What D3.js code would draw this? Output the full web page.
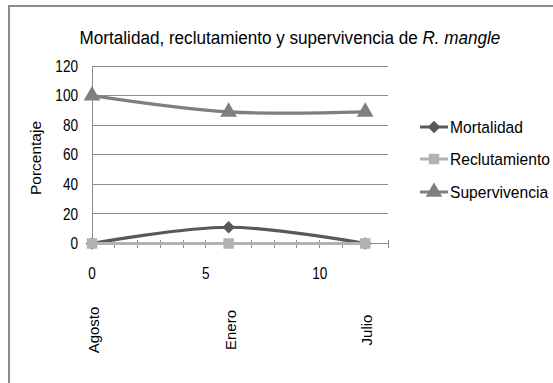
<!DOCTYPE html>
<html><head><meta charset="utf-8">
<script src="https://cdn.jsdelivr.net/npm/d3@7"></script>
<style>
body{margin:0;background:#fff;}
svg{display:block;}
text{font-family:"Liberation Sans",Arial,sans-serif;}
</style></head><body>
<script>
const xValues = [0, 6, 12];
const months = ["Agosto", "Enero", "Julio"];
const seriesNames = ["Mortalidad", "Reclutamiento", "Supervivencia"];
const mortalidad = [0, 11, 0];
const reclutamiento = [0, 0, 0];
const supervivencia = [100, 89, 89];
const yTicks = [0, 20, 40, 60, 80, 100, 120];
const xTicks = [0, 5, 10];

const W = 553, H = 383;
const svg = d3.select("body").append("svg").attr("width", W).attr("height", H);

// outer frame
svg.append("path").attr("d", `M9,${H+2} L9,6 L${W+2},6`).attr("fill","none")
  .attr("stroke","#8c8c8c").attr("stroke-width",2);

const x = d3.scaleLinear().domain([0, 13]).range([92, 388]);
const y = d3.scaleLinear().domain([0, 120]).range([243.5, 66]);

// narrow text helper (condensed look)
function ntext(g, px, py, str, size, anchor, sx) {
  const t = g.append("g").attr("transform", `translate(${px},${py}) scale(${sx},1)`)
    .append("text").attr("text-anchor", anchor).attr("dy","0.35em")
    .attr("font-size", size).attr("fill","#000");
  if (str !== null) t.text(str);
  return t;
}

// gridlines
svg.append("g").selectAll("line").data(yTicks.filter(d => d > 0)).join("line")
  .attr("x1", x(0)).attr("x2", x(13)).attr("y1", d => y(d)).attr("y2", d => y(d))
  .attr("stroke", "#8c8c8c").attr("stroke-width", 1).attr("shape-rendering","crispEdges");

// y axis line
svg.append("line").attr("x1", x(0)).attr("x2", x(0)).attr("y1", y(120)).attr("y2", y(0))
  .attr("stroke", "#8c8c8c").attr("shape-rendering","crispEdges");

// y tick labels
const gy = svg.append("g");
yTicks.forEach(d => ntext(gy, 78, y(d), String(d), 16, "end", 0.85));

// x axis line with cross minor ticks
svg.append("line").attr("x1", x(0)).attr("x2", x(13)).attr("y1", y(0)).attr("y2", y(0))
  .attr("stroke", "#8c8c8c").attr("shape-rendering","crispEdges");
svg.append("g").selectAll("line").data(d3.range(1, 14)).join("line")
  .attr("x1", d => x(d)).attr("x2", d => x(d)).attr("y1", y(0) - 4).attr("y2", y(0) + 4)
  .attr("stroke", "#8c8c8c").attr("shape-rendering","crispEdges");

// x tick labels
const gx = svg.append("g");
xTicks.forEach(d => ntext(gx, x(d), 273, String(d), 16, "middle", 0.85));

// month labels rotated
svg.append("g").selectAll("text").data(months).join("text")
  .attr("transform", (d, i) => `translate(${x(xValues[i]) + 7},330) rotate(-90)`)
  .attr("text-anchor","middle").attr("font-size", 15).attr("fill","#000").text(d => d);

// y axis title
svg.append("text")
  .attr("transform", `translate(41,158) rotate(-90)`).attr("text-anchor","middle")
  .attr("font-size", 15.5).attr("fill","#000").text("Porcentaje");

// title
const title = ntext(svg, 290, 37, null, 19, "middle", 0.9);
title.append("tspan").text("Mortalidad, reclutamiento y supervivencia  de ");
title.append("tspan").attr("font-style","italic").text("R. mangle");

const series = [
  {name: seriesNames[0], vals: mortalidad, color: "#595959", marker: "diamond"},
  {name: seriesNames[1], vals: reclutamiento, color: "#b2b2b2", marker: "square"},
  {name: seriesNames[2], vals: supervivencia, color: "#7f7f7f", marker: "triangle"}
];
const line = d3.line().x((d, i) => x(xValues[i])).y(d => y(d)).curve(d3.curveCardinal.tension(0));

function markerPath(type) {
  if (type === "diamond") return d3.symbol().type(d3.symbolDiamond2).size(100)();
  if (type === "square") return d3.symbol().type(d3.symbolSquare).size(110)();
  return d3.symbol().type(d3.symbolTriangle).size(120)();
}

const order = [2, 0, 1];
order.forEach(k => {
  const s = series[k];
  svg.append("path").datum(s.vals).attr("d", line).attr("fill","none")
    .attr("stroke", s.color).attr("stroke-width", 3.2);
  svg.append("g").selectAll("path").data(s.vals).join("path")
    .attr("d", markerPath(s.marker))
    .attr("transform", (d, i) => `translate(${x(xValues[i])},${y(d)})`)
    .attr("fill", s.color);
});

// legend
const legY = [127, 159, 192];
const leg = svg.append("g");
series.forEach((s, i) => {
  leg.append("line").attr("x1", 420).attr("x2", 448).attr("y1", legY[i]).attr("y2", legY[i])
    .attr("stroke", s.color).attr("stroke-width", 3);
  leg.append("path").attr("d", markerPath(s.marker))
    .attr("transform", `translate(434,${legY[i]})`).attr("fill", s.color);
  ntext(leg, 450, legY[i], s.name, 17, "start", 0.92);
});
</script>
</body></html>
